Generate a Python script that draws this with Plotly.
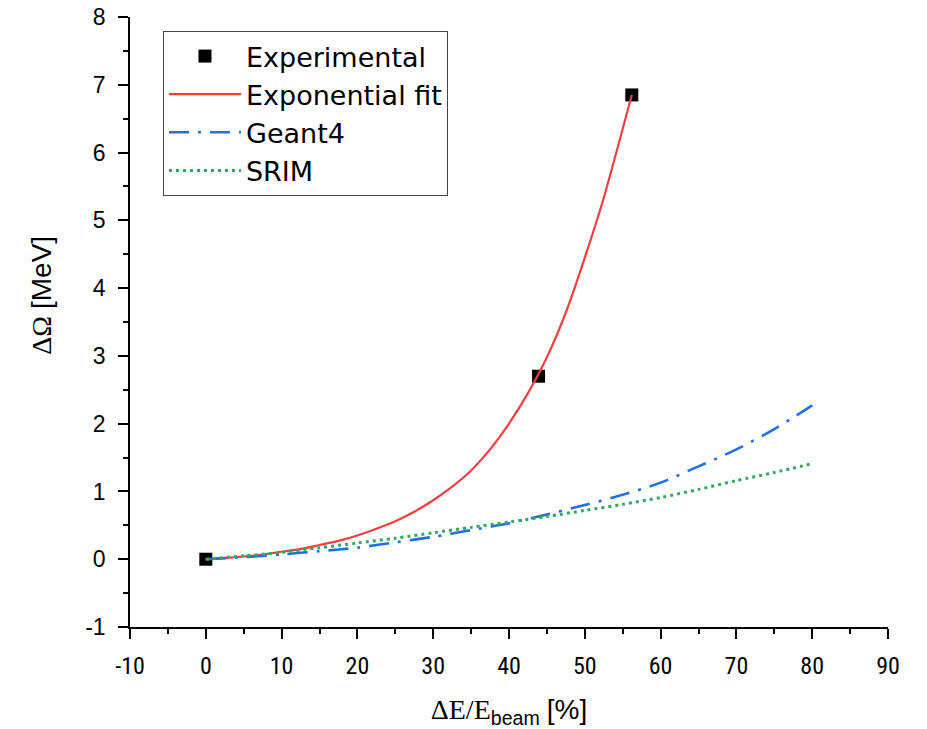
import plotly.graph_objects as go

# Measured energy-loss shifts
exp_x = [0.0, 43.9, 56.2]
exp_y = [0.0, 2.70, 6.85]

# Exponential fit through the measurements
fit_x = [0, 2.5, 5, 7.5, 10, 12.5, 15, 17.5, 20, 22.5, 25, 27.5, 30, 32.5,
         35, 37.5, 40, 42.5, 45, 47.5, 50, 52.5, 55, 56.2]
fit_y = [0, 0.02, 0.04, 0.07, 0.11, 0.15, 0.21, 0.27, 0.35, 0.45, 0.56, 0.70,
         0.87, 1.07, 1.31, 1.62, 2.00, 2.45, 2.98, 3.64, 4.45, 5.33, 6.35, 6.85]

# Geant4 simulation
g4_x = [0, 5, 10, 15, 20, 25, 30, 35, 40, 45, 50, 55, 60, 65, 70, 75, 80]
g4_y = [0, 0.03, 0.07, 0.12, 0.17, 0.25, 0.33, 0.43, 0.53, 0.66, 0.80, 0.95,
        1.13, 1.37, 1.62, 1.92, 2.27]

# SRIM calculation
srim_x = [0, 5, 10, 15, 20, 25, 30, 35, 40, 45, 50, 55, 60, 65, 70, 75, 80]
srim_y = [0, 0.05, 0.10, 0.17, 0.24, 0.31, 0.39, 0.47, 0.55, 0.63, 0.72, 0.81,
          0.91, 1.03, 1.16, 1.28, 1.41]

x_ticks = [-10, 0, 10, 20, 30, 40, 50, 60, 70, 80, 90]
y_ticks = [-1, 0, 1, 2, 3, 4, 5, 6, 7, 8]

SANS = "Liberation Sans, Arial, sans-serif"
NARROW = "Liberation Sans Narrow, Arial Narrow, Roboto Condensed, Liberation Sans, sans-serif"
SERIF = "Liberation Serif, Times New Roman, serif"

fig = go.Figure()
fig.add_trace(go.Scatter(
    x=exp_x, y=exp_y, mode="markers", name="Experimental", legendgroup="a",
    marker=dict(symbol="square", size=13, color="black")))
fig.add_trace(go.Scatter(
    x=fit_x, y=fit_y, mode="lines", name="Exponential fit", legendgroup="b",
    line=dict(color="#f0403f", width=2.2, shape="spline", smoothing=0.6)))
fig.add_trace(go.Scatter(
    x=g4_x, y=g4_y, mode="lines", name="Geant4", legendgroup="c",
    line=dict(color="#1f70e0", width=2.6, dash="20px,9px,3px,9px",
              shape="spline", smoothing=0.8)))
fig.add_trace(go.Scatter(
    x=srim_x, y=srim_y, mode="lines", name="SRIM", legendgroup="d",
    line=dict(color="#33a860", width=3, dash="3px,4px",
              shape="spline", smoothing=0.8)))

axis_common = dict(
    showline=True, linecolor="black", linewidth=1.5,
    ticks="outside", ticklen=10, tickwidth=1.5, tickcolor="black",
    showgrid=False, zeroline=False, mirror=False, automargin=False,
)
minor_common = dict(ticks="outside", ticklen=5, tickwidth=1.5, tickcolor="black")

fig.update_xaxes(
    range=[-10, 90], tickvals=x_ticks, ticktext=[str(v) for v in x_ticks],
    minor=dict(dtick=5, **minor_common),
    tickfont=dict(family=NARROW, size=24, color="black"),
    ticklabelstandoff=6,
    title=dict(
        text=("ΔE/E<sub><span style='font-family:" + SANS + "'>beam</span></sub>"
              " <span style='font-family:" + SANS + "'>[%]</span>"),
        font=dict(family=SERIF, size=28, color="black"),
        standoff=22),
    **axis_common)
fig.update_yaxes(
    range=[-1, 8], tickvals=y_ticks, ticktext=[str(v) for v in y_ticks],
    minor=dict(dtick=0.5, **minor_common),
    tickfont=dict(family=SANS, size=23, color="black"),
    ticklabelstandoff=8,
    **axis_common)

# vertical axis title, placed slightly above the plot's centre line
fig.add_annotation(
    text="ΔΩ <span style='font-family:" + SANS + "'>[MeV]</span>",
    xref="paper", yref="paper", x=-0.116, y=0.543,
    xanchor="center", yanchor="middle", textangle=-90, showarrow=False,
    font=dict(family=SERIF, size=28, color="black"))

fig.update_layout(
    width=927, height=729,
    margin=dict(l=130, r=39, t=17, b=102),
    paper_bgcolor="white", plot_bgcolor="white",
    legend=dict(
        x=0.0435, y=0.977, xanchor="left", yanchor="top",
        bgcolor="white", bordercolor="#444444", borderwidth=1,
        font=dict(family="DejaVu Sans, sans-serif", size=27, color="black"),
        traceorder="normal", itemwidth=72, tracegroupgap=4,
    ),
    showlegend=True,
)

fig.write_html("out.html")
